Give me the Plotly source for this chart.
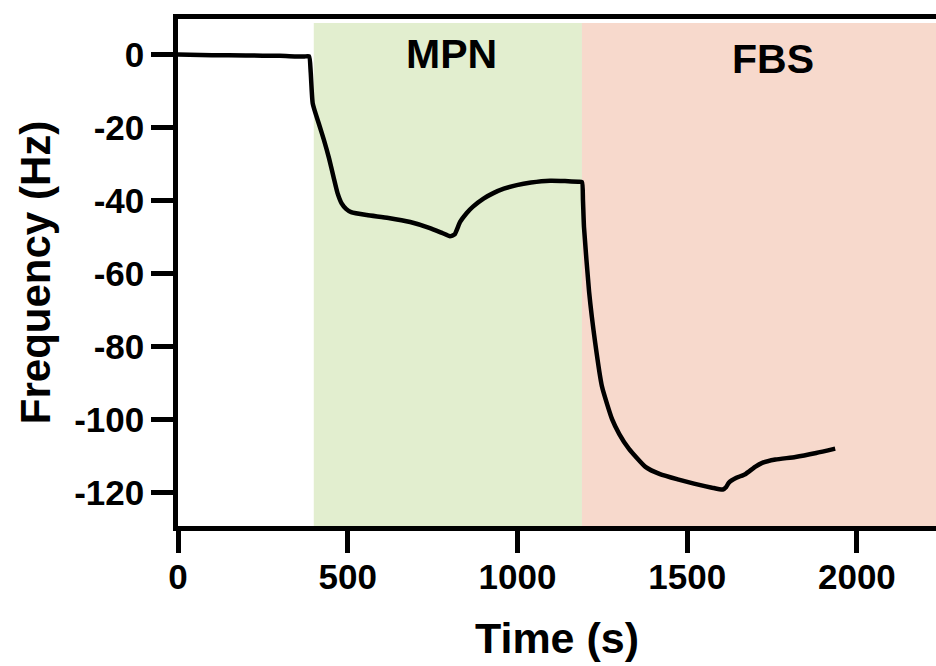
import plotly.graph_objects as go

time_s = [0, 100, 200, 300, 370, 386, 391, 397, 415, 430, 445, 458, 470, 482, 495, 510, 556, 620, 684, 740, 780,
          801, 815, 831, 850, 869, 900, 929, 960, 998, 1040, 1096, 1140, 1179, 1190, 1193, 1196, 1211, 1229, 1249,
          1279, 1300, 1328, 1377, 1420, 1475, 1520, 1573, 1605, 1615, 1623, 1645, 1671, 1700, 1721, 1760, 1819,
          1880, 1936]
freq_hz = [0, -0.2, -0.3, -0.4, -0.6, -0.5, -5, -13.5, -19, -23.5, -28.5, -33.5, -38, -40.8, -42.3, -43.2, -44,
           -44.8, -45.9, -47.5, -49, -49.8, -49.3, -45.9, -43.5, -41.7, -39.5, -38, -36.8, -35.8, -35.1, -34.6,
           -34.7, -34.9, -35, -40, -47.3, -65, -79, -91, -100, -104, -108, -113, -115, -116.5, -117.6, -118.7,
           -119.2, -118.5, -117.3, -116, -115, -113, -111.9, -111, -110.3, -109.2, -108]

phases = ["MPN", "FBS"]
phase_start = [400, 1190]
phase_end = [1190, 2240]
phase_colors = ["#E2EECF", "#F7D9CC"]
phase_label_x = [806, 1753]
phase_label_y = [0.0, -1.3]

x_ticks = [0, 500, 1000, 1500, 2000]
y_ticks = [0, -20, -40, -60, -80, -100, -120]

FONT = "Liberation Sans, Arial, sans-serif"

fig = go.Figure()
fig.add_trace(go.Scatter(x=time_s, y=freq_hz, mode="lines",
                         line=dict(color="black", width=4.5, shape="spline", smoothing=0.5),
                         showlegend=False))

for name, x0, x1, col, lx, ly in zip(phases, phase_start, phase_end, phase_colors, phase_label_x, phase_label_y):
    fig.add_shape(type="rect", x0=x0, x1=x1, y0=-129.2, y1=8.6, fillcolor=col,
                  line=dict(width=0), layer="below")
    fig.add_annotation(x=lx, y=ly, text=name, showarrow=False,
                       font=dict(family=FONT, size=41, color="black", weight="bold"))

fig.update_xaxes(range=[0, 2233], tickvals=x_ticks, ticktext=[str(v) for v in x_ticks],
                 showline=True, linecolor="black", linewidth=4.5, mirror=True,
                 ticks="outside", ticklen=22, tickwidth=4.5, tickcolor="black",
                 showgrid=False, zeroline=False,
                 tickfont=dict(family=FONT, size=35, color="black", weight="bold"),
                 ticklabelstandoff=-6,
                 title=dict(text="Time (s)", standoff=30,
                            font=dict(family=FONT, size=43, color="black", weight="bold")))
fig.update_yaxes(range=[-129.2, 9.7], tickvals=y_ticks, ticktext=[str(v) for v in y_ticks],
                 showline=True, linecolor="black", linewidth=4.5,
                 ticks="outside", ticklen=22, tickwidth=4.5, tickcolor="black",
                 showgrid=False, zeroline=False,
                 tickfont=dict(family=FONT, size=35, color="black", weight="bold"),
                 ticklabelstandoff=0,
                 title=dict(text="Frequency (Hz)", standoff=12,
                            font=dict(family=FONT, size=42, color="black", weight="bold")))

fig.update_layout(width=936, height=666, margin=dict(l=178, r=0, t=19, b=140, autoexpand=False),
                  plot_bgcolor="white", paper_bgcolor="white")

fig.write_html("out.html", config={"displayModeBar": False},
               post_script="document.body.style.margin='0px';")
